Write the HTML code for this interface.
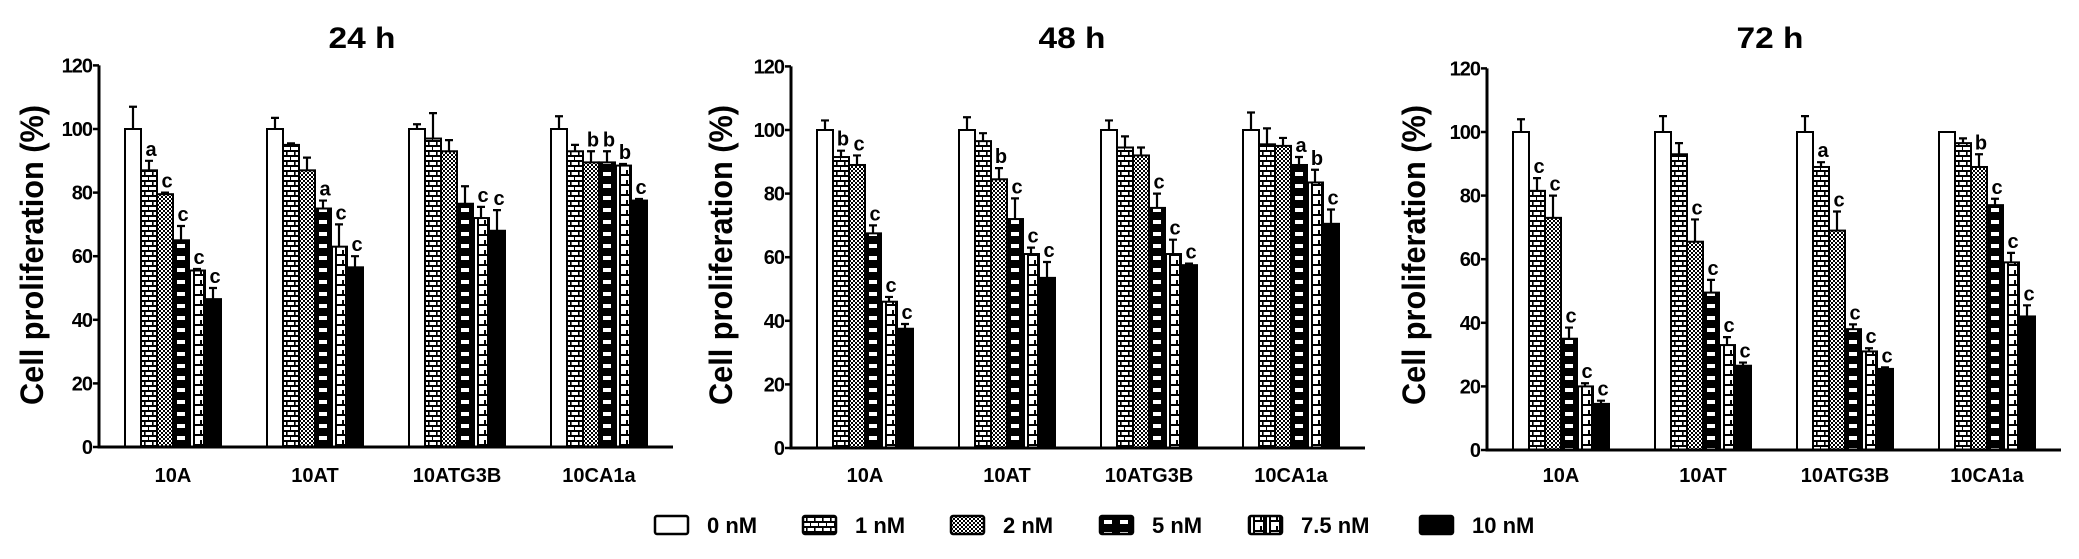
<!DOCTYPE html>
<html><head><meta charset="utf-8">
<style>
html,body{margin:0;padding:0;background:#fff;}
svg{display:block;}
text{font-family:"Liberation Sans",Arial,sans-serif;font-weight:bold;fill:#000;}
</style></head>
<body>
<svg id="chart" width="2079" height="559" viewBox="0 0 2079 559" xmlns="http://www.w3.org/2000/svg">
<defs>
  <pattern id="p-brick" patternUnits="userSpaceOnUse" width="8" height="10">
    <rect width="8" height="10" fill="#fff"/>
    <rect x="0" y="0" width="8" height="2" fill="#000"/>
    <rect x="0" y="5" width="8" height="2" fill="#000"/>
    <rect x="3" y="0" width="1.6" height="5" fill="#000"/>
    <rect x="7" y="5" width="1.6" height="5" fill="#000"/>
  </pattern>
  <pattern id="p-check" patternUnits="userSpaceOnUse" width="4" height="4">
    <rect width="4" height="4" fill="#fff"/>
    <rect x="0" y="0" width="2" height="2" fill="#000"/>
    <rect x="2" y="2" width="2" height="2" fill="#000"/>
  </pattern>
  <pattern id="p-dash" patternUnits="userSpaceOnUse" width="16" height="12">
    <rect width="16" height="12" fill="#000"/>
    <rect x="4" y="4" width="8" height="4" fill="#fff"/>
  </pattern>
  <pattern id="p-ladder" patternUnits="userSpaceOnUse" width="16" height="10">
    <rect width="16" height="10" fill="#fff"/>
    <rect x="4" y="4" width="10" height="2" fill="#000"/>
    <rect x="4" y="0" width="2" height="10" fill="#000"/>
    <rect x="11" y="0" width="2" height="4" fill="#000"/>
    <rect x="0" y="0" width="2" height="10" fill="#000"/>
    <rect x="14" y="0" width="2" height="10" fill="#000"/>
  </pattern>
</defs>
<g id="panels"></g>
<g id="legend"></g>
</svg>
<script>
const categories = ["10A", "10AT", "10ATG3B", "10CA1a"];
const seriesNames = ["0 nM", "1 nM", "2 nM", "5 nM", "7.5 nM", "10 nM"];
const panelTitles = ["24 h", "48 h", "72 h"];
const yTicks = [0, 20, 40, 60, 80, 100, 120];

const vals24 = [[100, 87, 79.5, 65, 55.5, 46.5], [100, 95, 87, 75, 63, 56.5], [100, 97, 93, 76.5, 72, 68], [100, 93, 89.5, 89.5, 88.5, 77.5]];
const errs24 = [[7, 3, 0.5, 4.5, 0.5, 3.5], [3.5, 0.5, 4, 2.5, 7, 3.5], [1.5, 8, 3.5, 5.5, 3.5, 6.5], [4, 2, 3.5, 3.5, 0.5, 0.5]];
const sig24 = [["", "a", "c", "c", "c", "c"], ["", "", "", "a", "c", "c"], ["", "", "", "", "c", "c"], ["", "", "b", "b", "b", "c"]];

const vals48 = [[100, 91.5, 89, 67.5, 46, 37.5], [100, 96.5, 84.5, 72, 61, 53.5], [100, 94.5, 92, 75.5, 61, 57.5], [100, 95.5, 95, 89, 83.5, 70.5]];
const errs48 = [[3, 2, 3, 2.5, 1.5, 1.5], [4, 2.5, 3.5, 6.5, 2, 5], [3, 3.5, 2.5, 4.5, 4.5, 0.5], [5.5, 5, 2.5, 2.5, 4, 4.5]];
const sig48 = [["", "b", "c", "c", "c", "c"], ["", "", "b", "c", "c", "c"], ["", "", "", "c", "c", "c"], ["", "", "", "a", "b", "c"]];

const vals72 = [[100, 81.5, 73, 35, 20, 14.5], [100, 93, 65.5, 49.5, 33, 26.5], [100, 89, 69, 38, 31, 25.5], [100, 96.5, 89, 77, 59, 42]];
const errs72 = [[4, 4, 7, 3.5, 1, 1], [5, 3.5, 7, 4, 2.5, 1], [5, 1.5, 6, 1.5, 1, 0.5], [0, 1.5, 4, 2, 3, 3.5]];
const sig72 = [["", "c", "c", "c", "c", "c"], ["", "", "c", "c", "c", "c"], ["", "a", "c", "c", "c", "c"], ["", "", "b", "c", "c", "c"]];

const NS = "http://www.w3.org/2000/svg";
const fills = ["#fff", "url(#p-brick)", "url(#p-check)", "url(#p-dash)", "url(#p-ladder)", "#000"];
const panelDefs = [
  {axisX: 99, y0: 447, titleX: 362, labelX: 32, vals: vals24, errs: errs24, sig: sig24},
  {axisX: 791, y0: 448, titleX: 1072, labelX: 721, vals: vals48, errs: errs48, sig: sig48},
  {axisX: 1487, y0: 450, titleX: 1770, labelX: 1414, vals: vals72, errs: errs72, sig: sig72}
];
const pxPerUnit = 3.18, barW = 16, groupGap = 142, firstOff = 26, axisLen = 574;

function el(tag, attrs, parent) {
  const e = document.createElementNS(NS, tag);
  for (const k in attrs) e.setAttribute(k, attrs[k]);
  parent.appendChild(e);
  return e;
}
const root = document.getElementById("panels");

panelDefs.forEach((p, pi) => {
  const yS = v => p.y0 - v * pxPerUnit;
  const xS = (g, i) => p.axisX + firstOff + g * groupGap + i * barW;
  const g = el("g", {}, root);
  
  

  const t = el("text", {x: p.titleX, y: 48, "font-size": 30, "text-anchor": "middle", textLength: 67, lengthAdjust: "spacingAndGlyphs"}, g);
  t.textContent = panelTitles[pi];
  
  

  const yl = el("text", {x: 0, y: 0, "font-size": 32, "text-anchor": "middle", transform: `translate(${p.labelX + 11},255) rotate(-90)`, textLength: 300, lengthAdjust: "spacingAndGlyphs"}, g);
  yl.textContent = "Cell proliferation (%)";
  
  

  categories.forEach((c, gi) => {
    seriesNames.forEach((s, si) => {
      const v = p.vals[gi][si], e = p.errs[gi][si];
      const x = xS(gi, si);
      const bg = el("g", {transform: `translate(${x},0)`}, g);
      const r = el("rect", {x: 0, y: yS(v), width: barW, height: p.y0 - yS(v), fill: fills[si], stroke: "#000", "stroke-width": 2}, bg);
      
      
      const cx = barW / 2;
      if (e > 0) {
        const top = yS(v + e);
        const eb = el("path", {d: `M${cx},${yS(v)} V${top} M${cx - 4},${top} H${cx + 4}`, stroke: "#000", "stroke-width": 2.2, fill: "none"}, bg);
        
        
      }
      const lab = p.sig[gi][si];
      if (lab) {
        const lt = el("text", {x: cx + 2, y: yS(v + e) - 5, "font-size": 20, "font-weight": "normal", "text-anchor": "middle"}, bg);
        lt.textContent = lab;
        
        
      }
    });
    const xl = el("text", {x: xS(gi, 0) + 48, y: 482, "font-size": 20, "text-anchor": "middle"}, g);
    xl.textContent = c;
    
    
  });

  const ya = el("path", {d: `M${p.axisX},${yS(120)} V${p.y0} H${p.axisX + axisLen}`, stroke: "#000", "stroke-width": 3, fill: "none"}, g);
  
  
  yTicks.forEach(v => {
    const tk = el("path", {d: `M${p.axisX - 6},${yS(v)} H${p.axisX}`, stroke: "#000", "stroke-width": 2.5}, g);
    
    
    const tl = el("text", {x: p.axisX - 7, y: yS(v) + 7, "font-size": 20, "text-anchor": "end", "letter-spacing": "-1"}, g);
    tl.textContent = v;
    
    
  });
});

const legendBoxX = [655, 803, 951, 1100, 1249, 1420];
const lg = document.getElementById("legend");
seriesNames.forEach((s, i) => {
  const it = el("g", {transform: `translate(${legendBoxX[i]},516)`}, lg);
  
  
  el("rect", {x: 0, y: 0, width: 33, height: 18, fill: fills[i], stroke: "#000", "stroke-width": 2.5, rx: 2}, it);
  const tx = el("text", {x: 52, y: 17, "font-size": 22}, it);
  tx.textContent = s;
});
</script>
</body></html>
